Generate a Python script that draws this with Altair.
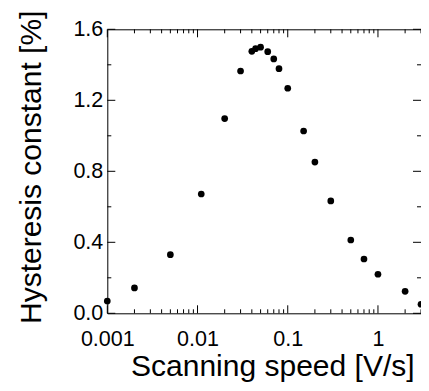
import altair as alt
import pandas as pd

# Data
speed = [0.001, 0.002, 0.005, 0.011, 0.02, 0.03, 0.04, 0.044, 0.05, 0.06, 0.07,
         0.08, 0.1, 0.15, 0.2, 0.3, 0.5, 0.7, 1.0, 2.0, 3.0]
hyst = [0.069, 0.143, 0.33, 0.672, 1.097, 1.365, 1.476, 1.491, 1.499, 1.474, 1.433,
        1.378, 1.268, 1.027, 0.852, 0.633, 0.413, 0.306, 0.22, 0.124, 0.051]

x_major = [0.001, 0.01, 0.1, 1]
x_minor = [m * d for d in [0.001, 0.01, 0.1] for m in range(2, 10)] + [2, 3]
y_major = [0.0, 0.4, 0.8, 1.2, 1.6]
y_minor = [0.2, 0.6, 1.0, 1.4]

W, H = 313.7, 284
FONT = "Liberation Sans"

xs = alt.Scale(type="log", domain=[0.001, 3.0], nice=False)
ys = alt.Scale(domain=[0, 1.6], nice=False, zero=False)

x_axis = alt.Axis(values=x_major, format="~g", title="Scanning speed [V/s]",
                  ticks=False, tickSize=0, domain=False, grid=False,
                  labelFlush=False, labelOverlap=False,
                  labelBaseline="alphabetic", labelPadding=31.7,
                  labelFont=FONT, labelFontSize=21.5, labelColor="black",
                  titleFont=FONT, titleFontSize=30, titleFontWeight="normal",
                  titleColor="black", titleBaseline="alphabetic",
                  titleAlign="center", titleX=165, titleY=62)
y_axis = alt.Axis(values=y_major, format=".1f", title="Hysteresis constant [%]",
                  ticks=False, tickSize=0, domain=False, grid=False,
                  labelFlush=False, labelOverlap=False,
                  labelBaseline="middle", labelPadding=4.5,
                  labelFont=FONT, labelFontSize=21.5, labelColor="black",
                  titleFont=FONT, titleFontSize=30, titleFontWeight="normal",
                  titleColor="black", titleBaseline="alphabetic",
                  titleAlign="center", titleAngle=270,
                  titleX=-67, titleY=137.5)

df = pd.DataFrame({"speed": speed, "h": hyst})

pts = alt.Chart(df).mark_circle(size=45, color="black", opacity=1).encode(
    x=alt.X("speed:Q", scale=xs, axis=x_axis),
    y=alt.Y("h:Q", scale=ys, axis=y_axis),
)

def xticks(vals, length):
    d = pd.DataFrame({"t": vals})
    base = alt.Chart(d).mark_rule(color="black", strokeWidth=1)
    bottom = base.encode(x=alt.X("t:Q", scale=xs, axis=x_axis),
                         y=alt.value(H), y2=alt.value(H - length))
    top = base.encode(x=alt.X("t:Q", scale=xs, axis=x_axis),
                      y=alt.value(0), y2=alt.value(length))
    return [bottom, top]

def yticks(vals, length):
    d = pd.DataFrame({"t": vals})
    base = alt.Chart(d).mark_rule(color="black", strokeWidth=1)
    left = base.encode(y=alt.Y("t:Q", scale=ys, axis=y_axis),
                       x=alt.value(0), x2=alt.value(length))
    right = base.encode(y=alt.Y("t:Q", scale=ys, axis=y_axis),
                        x=alt.value(W), x2=alt.value(W - length))
    return [left, right]

layers = [pts] + xticks(x_major, 8) + xticks(x_minor, 4) + yticks(y_major, 8) + yticks(y_minor, 4)

chart = alt.layer(*layers).properties(
    width=W, height=H,
    autosize=alt.AutoSizeParams(type="none"),
    padding={"left": 99.3, "top": 21.3, "right": 0, "bottom": 69.7},
    background="white",
).configure_view(stroke="black", strokeWidth=1)

chart.save("out.html", embed_options={"renderer": "svg", "actions": False})
